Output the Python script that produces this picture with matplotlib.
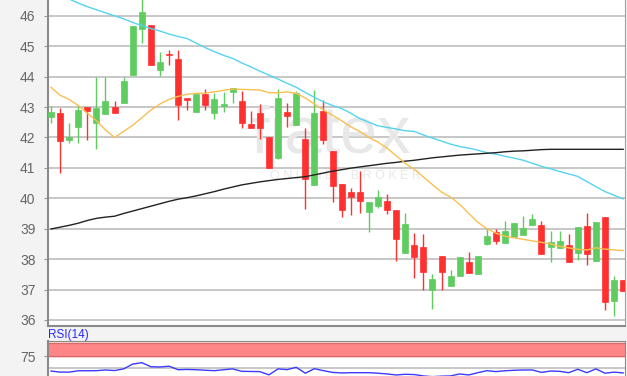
import matplotlib
matplotlib.use("Agg")
import matplotlib.pyplot as plt
import numpy as np

plt.rcParams['font.family'] = ['Liberation Sans', 'DejaVu Sans']

# OHLC data, one entry per candle
opens = [42.67, 42.80, 41.93, 42.34, 42.99, 42.47, 42.76, 42.99, 43.12, 44.07,
         45.56, 45.71, 44.23, 44.75, 44.59, 43.30, 42.84, 43.43, 42.79, 43.02,
         43.48, 43.20, 42.43, 42.81, 42.00, 41.33, 42.84, 42.40, 41.95, 40.45,
         42.88, 41.57, 40.47, 40.20, 40.20, 39.54, 39.76, 39.92, 39.62, 38.20,
         38.48, 38.39, 36.99, 38.10, 37.13, 37.43, 37.90, 37.52, 38.50, 38.90,
         38.52, 38.72, 38.80, 39.12, 39.12, 38.39, 38.36, 38.48, 38.19, 39.10,
         37.95, 39.38, 36.61, 37.30]
highs = [43.02, 42.98, 42.48, 43.08, 43.00, 44.00, 44.00, 43.19, 43.98, 45.68,
         46.55, 45.71, 44.81, 44.89, 44.87, 43.30, 43.43, 43.60, 43.47, 43.50,
         43.64, 43.52, 42.86, 43.09, 42.00, 43.58, 43.13, 43.52, 42.31, 43.56,
         43.23, 41.57, 40.47, 40.34, 40.89, 39.89, 40.27, 40.14, 39.62, 39.51,
         38.86, 38.81, 37.51, 38.10, 37.63, 38.07, 38.23, 38.09, 39.01, 39.00,
         39.24, 39.19, 39.43, 39.48, 39.25, 38.93, 38.93, 38.83, 39.07, 39.50,
         39.21, 39.38, 37.43, 37.30]
lows = [42.47, 40.82, 41.81, 41.81, 41.92, 41.62, 42.76, 42.81, 43.12, 44.06,
        45.12, 44.38, 44.01, 44.38, 42.56, 42.89, 42.84, 42.89, 42.60, 42.85,
        43.12, 42.30, 42.31, 41.94, 40.99, 41.30, 42.34, 42.40, 39.65, 40.45,
        41.79, 39.87, 39.38, 39.45, 39.51, 38.88, 39.68, 39.49, 37.93, 38.20,
        37.37, 36.99, 36.36, 37.00, 37.13, 37.43, 37.55, 37.52, 38.47, 38.50,
        38.52, 38.72, 38.80, 39.12, 38.16, 37.90, 38.36, 37.90, 37.97, 37.82,
        37.95, 36.34, 36.12, 36.95]
closes = [42.84, 41.87, 42.00, 42.91, 42.86, 42.98, 43.19, 42.81, 43.84, 45.67,
          46.13, 44.38, 44.48, 44.70, 43.08, 43.24, 43.43, 43.08, 43.25, 43.09,
          43.62, 42.49, 42.31, 42.30, 40.99, 43.30, 42.70, 43.45, 40.64, 42.80,
          41.93, 40.39, 39.62, 40.03, 39.92, 39.89, 40.05, 39.62, 38.66, 39.16,
          38.08, 37.57, 37.33, 37.58, 37.46, 38.06, 37.55, 38.09, 38.75, 38.61,
          38.93, 39.19, 39.01, 39.32, 38.16, 38.55, 38.61, 37.90, 39.07, 38.17,
          39.21, 36.59, 37.32, 36.95]

# moving averages
ma_short = [43.65, 43.39, 43.25, 43.05, 42.80, 42.55, 42.25, 42.00, 42.20, 42.40,
            42.65, 42.90, 43.10, 43.25, 43.35, 43.42, 43.45, 43.46, 43.50, 43.55,
            43.59, 43.58, 43.57, 43.56, 43.47, 43.47, 43.50, 43.45, 43.30, 43.10,
            42.90, 42.73, 42.55, 42.35, 42.20, 42.00, 41.85, 41.65, 41.40, 41.15,
            40.95, 40.70, 40.45, 40.20, 40.04, 39.80, 39.50, 39.21, 39.00, 38.85,
            38.75, 38.70, 38.65, 38.60, 38.55, 38.50, 38.42, 38.37, 38.32, 38.30,
            38.37, 38.33, 38.30, 38.28]
ma_mid = [46.80, 46.68, 46.55, 46.42, 46.30, 46.20, 46.10, 46.00, 45.90, 45.78,
          45.68, 45.58, 45.50, 45.40, 45.32, 45.25, 45.10, 44.95, 44.82, 44.70,
          44.60, 44.45, 44.32, 44.18, 44.05, 43.92, 43.78, 43.65, 43.48, 43.32,
          43.17, 43.05, 42.95, 42.80, 42.62, 42.50, 42.38, 42.33, 42.28, 42.22,
          42.20, 42.08, 41.98, 41.88, 41.78, 41.70, 41.65, 41.58, 41.50, 41.45,
          41.38, 41.32, 41.25, 41.15, 41.05, 40.97, 40.88, 40.80, 40.72, 40.55,
          40.38, 40.22, 40.10, 39.98]
ma_long = [38.99, 39.05, 39.11, 39.18, 39.27, 39.34, 39.38, 39.41, 39.50, 39.58,
           39.66, 39.74, 39.82, 39.90, 39.97, 40.02, 40.08, 40.15, 40.22, 40.30,
           40.37, 40.44, 40.49, 40.54, 40.58, 40.62, 40.65, 40.68, 40.71, 40.77,
           40.83, 40.89, 40.94, 40.99, 41.03, 41.07, 41.11, 41.15, 41.18, 41.22,
           41.25, 41.29, 41.33, 41.36, 41.39, 41.42, 41.44, 41.46, 41.48, 41.50,
           41.53, 41.55, 41.56, 41.58, 41.60, 41.61, 41.61, 41.61, 41.61, 41.61,
           41.61, 41.61, 41.61, 41.61]

rsi = [44.0, 41.7, 41.7, 44.6, 44.6, 44.8, 46.3, 45.1, 48.6, 58.9,
       61.8, 53.2, 52.7, 54.3, 46.8, 47.4, 46.8, 45.7, 44.8, 46.8,
       48.6, 43.4, 43.1, 42.7, 35.9, 48.6, 47.0, 52.0, 39.4, 49.0,
       44.8, 41.1, 40.0, 40.5, 40.5, 40.5, 39.4, 37.8, 35.6, 37.1,
       36.5, 33.6, 32.0, 33.1, 33.6, 37.8, 35.6, 40.5, 44.8, 42.8,
       44.6, 45.7, 46.3, 46.3, 41.1, 44.0, 43.4, 40.5, 47.8, 40.5,
       48.6, 39.4, 41.7, 40.0]

price_ticks = [36, 37, 38, 39, 40, 41, 42, 43, 44, 45, 46]

W, H = 627, 376
fig = plt.figure(figsize=(W / 100, H / 100), dpi=100, facecolor='#f3f3f3')

# main price panel
ax = fig.add_axes([48 / W, (H - 326) / H, 577 / W, 326 / H])
ax.set_facecolor('white')
x = np.arange(len(opens))
o = np.array(opens)
c = np.array(closes)
up = c >= o
green = '#5fcc5f'
red = '#ff3030'
colors = [green if u else red for u in up]

ax.vlines(x, lows, highs, colors=colors, linewidth=1, zorder=3)
ax.bar(x, np.abs(c - o), bottom=np.minimum(o, c), width=0.66,
       color=colors, edgecolor=colors, linewidth=0.5, zorder=4)

ax.plot(x, ma_mid, color='#55d4f0', linewidth=1.0, zorder=5)
ax.plot(x, ma_long, color='#222222', linewidth=1.0, zorder=5)
ax.plot(x, ma_short, color='#f8c050', linewidth=1.0, zorder=5)

# watermark
ax.text(0.49, 0.585, 'fiatex', transform=ax.transAxes, fontsize=48,
        color='#e8e8e8', ha='center', va='center', zorder=1)
ax.text(0.515, 0.46, 'O N L I N E     B R O K E R', transform=ax.transAxes,
        fontsize=9, color='#e8e8e8', ha='center', va='center', zorder=1)

ax.set_xlim(-0.33, 63.2)
ax.set_ylim(35.8, 46.52)
ax.set_yticks(price_ticks)
ax.set_yticklabels([str(t) for t in price_ticks])
ax.set_xticks([])
ax.grid(axis='y', color='#b8b8b8', linewidth=1.1)
ax.set_axisbelow(True)
ax.tick_params(axis='y', length=3, color='#999999', labelcolor='#666666',
               labelsize=10, pad=6)
for s in ['left', 'bottom']:
    ax.spines[s].set_color('#8a8a8a')
    ax.spines[s].set_linewidth(1.5)
ax.spines['right'].set_color('#a0a0a0')
ax.spines['top'].set_visible(False)

# RSI panel
rax = fig.add_axes([48 / W, (H - 391.7) / H, 577 / W, 50.7 / H])
rax.set_facecolor('white')
rax.axhspan(75, 103, color='#ff8686', zorder=1)
rax.axhline(75, color='#d86a6a', linewidth=1, zorder=2)
rax.axhline(103, color='#d86a6a', linewidth=1, zorder=2)
rax.axhline(50, color='#b8b8b8', linewidth=1.1, zorder=1)
rax.plot(x, rsi, color='#3b3bff', linewidth=1.0, zorder=3)
rax.set_xlim(-0.33, 63.2)
rax.set_ylim(0, 108)
rax.set_yticks([75])
rax.set_yticklabels(['75'])
rax.set_xticks([])
rax.tick_params(axis='y', length=3, color='#999999', labelcolor='#666666',
                labelsize=10, pad=6)
for s in ['left', 'top', 'right']:
    rax.spines[s].set_color('#8a8a8a')
rax.spines['left'].set_linewidth(1.5)
fig.text(48 / W, 1 - 335 / H, 'RSI(14)', color='#2a2aff', fontsize=8.5,
         ha='left', va='center')

fig.savefig('out.png', dpi=100, facecolor=fig.get_facecolor())
